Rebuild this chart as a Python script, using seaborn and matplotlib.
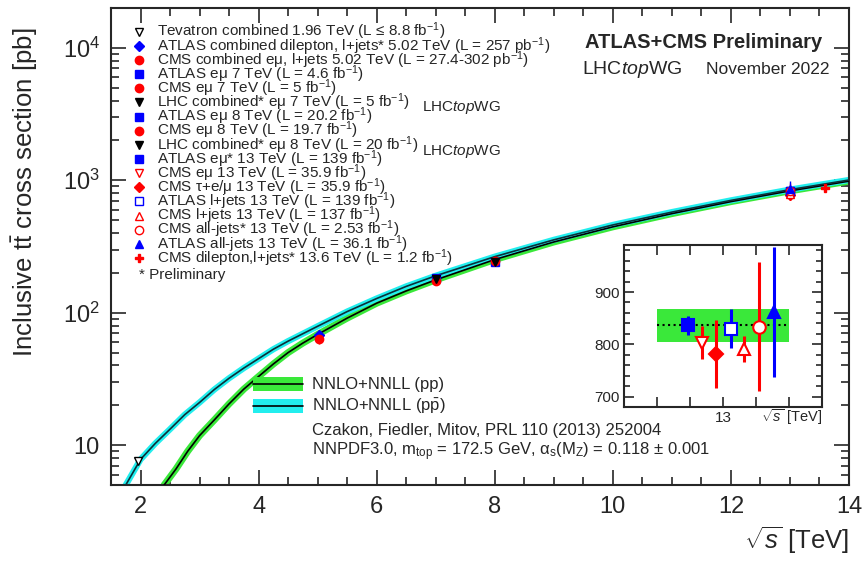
import numpy as np
import pandas as pd
import matplotlib
matplotlib.use("Agg")
import matplotlib.pyplot as plt
import seaborn as sns
from matplotlib.ticker import MultipleLocator, LogLocator, FixedLocator, FixedFormatter, NullFormatter
from matplotlib.patches import Rectangle
from matplotlib.lines import Line2D

# theory curves (NNLO+NNLL)
energy_pp = [2.4, 2.6, 2.8, 3.0, 3.25, 3.5, 3.75, 4.0, 4.25, 4.5, 4.75, 5.0, 5.5, 6.0, 6.5, 7.0,
             8.0, 9.0, 10.0, 11.0, 12.0, 13.0, 14.0]
xsec_pp = [5.0, 6.6, 9.0, 11.8, 15.5, 20.5, 26.5, 33, 41, 50, 59, 68.5, 91, 118, 146, 177,
           252, 342, 445, 560, 690, 832, 985]
energy_ppbar = [1.75, 2.0, 2.25, 2.5, 2.75, 3.0, 3.25, 3.5, 3.75, 4.0, 4.25, 4.5, 5.0, 5.5, 6.0, 6.5,
                7.0, 8.0, 9.0, 10.0, 11.0, 12.0, 13.0, 14.0]
xsec_ppbar = [5.0, 7.8, 10.3, 13.2, 17, 21, 26.3, 32, 38.2, 45, 53, 61, 79, 102, 128, 158,
              190, 265, 355, 460, 575, 705, 850, 1005]

# measurements
labels = [
    r"Tevatron combined 1.96 TeV (L ≤ 8.8 fb$^{-1}$)",
    r"ATLAS combined dilepton, l+jets* 5.02 TeV (L = 257 pb$^{-1}$)",
    r"CMS combined eμ, l+jets 5.02 TeV (L = 27.4-302 pb$^{-1}$)",
    r"ATLAS eμ 7 TeV (L = 4.6 fb$^{-1}$)",
    r"CMS eμ 7 TeV (L = 5 fb$^{-1}$)",
    r"LHC combined* eμ 7 TeV (L = 5 fb$^{-1}$)",
    r"ATLAS eμ 8 TeV (L = 20.2 fb$^{-1}$)",
    r"CMS eμ 8 TeV (L = 19.7 fb$^{-1}$)",
    r"LHC combined* eμ 8 TeV (L = 20 fb$^{-1}$)",
    r"ATLAS eμ* 13 TeV (L = 139 fb$^{-1}$)",
    r"CMS eμ 13 TeV (L = 35.9 fb$^{-1}$)",
    r"CMS τ+e/μ 13 TeV (L = 35.9 fb$^{-1}$)",
    r"ATLAS l+jets 13 TeV (L = 139 fb$^{-1}$)",
    r"CMS l+jets 13 TeV (L = 137 fb$^{-1}$)",
    r"CMS all-jets* 13 TeV (L = 2.53 fb$^{-1}$)",
    r"ATLAS all-jets 13 TeV (L = 36.1 fb$^{-1}$)",
    r"CMS dilepton,l+jets* 13.6 TeV (L = 1.2 fb$^{-1}$)",
]
meas_energy = [1.96, 5.02, 5.02, 7, 7, 7, 8, 8, 8, 13, 13, 13, 13, 13, 13, 13, 13.6]
meas_xsec = [7.60, 67.5, 63.0, 182.9, 173.6, 178.5, 242.9, 244.9, 243.3,
             836, 803, 781, 830, 791, 834, 862, 881]
meas_err = [0.20, 2.7, 5.1, 7.1, 6.7, 6.0, 8.4, 9.3, 8.7,
            19, 32, 65, 38, 25, 124, 125, 23]

# 13 TeV zoom: horizontal positions of the points in the inset
inset_idx = [9, 10, 11, 12, 13, 14, 15]
inset_x = [12.79, 12.87, 12.96, 13.05, 13.13, 13.22, 13.31]
theory13 = 836
theory13_lo = 805
theory13_hi = 868

# styles
BLUE, RED, BLACK = "#0000ff", "#ff0000", "#000000"
GREEN, CYAN = "#3ae83a", "#22eeee"
markers = ["v", "D", "o", "s", "o", "v", "s", "o", "v", "s", "v", "D", "s", "^", "o", "^", "P"]
colors = [BLACK, BLUE, RED, BLUE, RED, BLACK, BLUE, RED, BLACK, BLUE, RED, RED, BLUE, RED, RED, BLUE, RED]
filled = [False, True, True, True, True, True, True, True, True, True, False, True, False, False, False, True, True]
msize = {"D": 0.8}

sns.set_style("ticks")
plt.rcParams["font.family"] = ["Liberation Sans", "DejaVu Sans"]
plt.rcParams["mathtext.fontset"] = "custom"
plt.rcParams["mathtext.rm"] = "Liberation Sans"
plt.rcParams["mathtext.it"] = "Liberation Sans:italic"
plt.rcParams["mathtext.bf"] = "Liberation Sans:bold"

fig = plt.figure(figsize=(8.64, 5.61), dpi=100)
ax = fig.add_axes([111 / 864, 76 / 561, 738 / 864, 477 / 561])

pp = pd.DataFrame({"energy": energy_pp, "xsec": xsec_pp})
ppbar = pd.DataFrame({"energy": energy_ppbar, "xsec": xsec_ppbar})

# bands drawn as thick lines under the central values
sns.lineplot(data=pp, x="energy", y="xsec", ax=ax, color=GREEN, lw=5, zorder=2)
sns.lineplot(data=ppbar, x="energy", y="xsec", ax=ax, color=CYAN, lw=4.5, zorder=2)
sns.lineplot(data=pp, x="energy", y="xsec", ax=ax, color=BLACK, lw=1.2, zorder=3)
sns.lineplot(data=ppbar, x="energy", y="xsec", ax=ax, color="#0c3038", lw=1.2, zorder=3)

for i in range(len(meas_energy)):
    ax.errorbar([meas_energy[i]], [meas_xsec[i]], yerr=[meas_err[i]], fmt=markers[i],
                color=colors[i], mec=colors[i], mfc=colors[i] if filled[i] else "white",
                ms=6 * msize.get(markers[i], 1), mew=1.0, elinewidth=1.0, capsize=0, zorder=5)

ax.set_yscale("log")
ax.set_xlim(1.5, 14)
ax.set_ylim(5, 2e4)

ax.xaxis.set_major_locator(MultipleLocator(2))
ax.xaxis.set_minor_locator(MultipleLocator(0.5))
ax.yaxis.set_major_locator(FixedLocator([10, 100, 1000, 10000]))
ax.yaxis.set_major_formatter(FixedFormatter(["10", "$10^{2}$", "$10^{3}$", "$10^{4}$"]))
ax.yaxis.set_minor_locator(LogLocator(base=10, subs=np.arange(2, 10)))
ax.yaxis.set_minor_formatter(NullFormatter())
ax.tick_params(which="both", direction="in", top=True, right=True, width=1.2)
ax.tick_params(which="major", length=11, labelsize=17, pad=8)
ax.tick_params(which="minor", length=6)
for s in ax.spines.values():
    s.set_linewidth(1.5)


def fx(px):
    return (px - 111) / 738


def fy(py):
    return 1 - (py - 8) / 477


ax.set_ylabel(r"Inclusive $\mathrm{t\bar{t}}$ cross section [pb]", fontsize=18.5, loc="top")
ax.yaxis.set_label_coords(fx(25), fy(28))
ax.yaxis.label.set_va("center")
ax.set_xlabel(r"$\sqrt{s}$ [TeV]", fontsize=18.5, loc="right")
ax.xaxis.set_label_coords(1.0, fy(540))
ax.xaxis.label.set_va("center")

# measurement legend
for i, lab in enumerate(labels):
    yy = fy(31.7 + 14.14 * i)
    ax.plot([fx(139)], [yy], marker=markers[i], color=colors[i], mec=colors[i],
            mfc=colors[i] if filled[i] else "white", ms=6 * msize.get(markers[i], 1), mew=1.0,
            transform=ax.transAxes, clip_on=False, zorder=6)
    ax.text(fx(157), yy, lab, fontsize=11, va="center", ha="left", transform=ax.transAxes)
ax.text(fx(139), fy(275), "* Preliminary", fontsize=11, va="center", ha="left", transform=ax.transAxes)
ax.text(fx(422), fy(107), r"LHC$\mathit{top}$WG", fontsize=11, va="center", transform=ax.transAxes)
ax.text(fx(422), fy(152), r"LHC$\mathit{top}$WG", fontsize=11, va="center", transform=ax.transAxes)

ax.text(fx(822), fy(43), "ATLAS+CMS Preliminary", fontsize=14.5, fontweight="bold",
        ha="right", va="center", transform=ax.transAxes)
ax.text(fx(582), fy(69), r"LHC$\mathit{top}$WG", fontsize=14, ha="left", va="center", transform=ax.transAxes)
ax.text(fx(830), fy(69), "November 2022", fontsize=12.5, ha="right", va="center", transform=ax.transAxes)

# theory legend
for yc, col, lab in [(384, GREEN, "NNLO+NNLL (pp)"), (406, CYAN, r"NNLO+NNLL (p$\mathrm{\bar{p}}$)")]:
    ax.add_patch(Rectangle((fx(253), fy(yc + 7)), fx(303) - fx(253), fy(yc - 7) - fy(yc + 7),
                           transform=ax.transAxes, fc=col, ec="none", zorder=6))
    ax.add_line(Line2D([fx(253), fx(303)], [fy(yc), fy(yc)], color=BLACK, lw=1.2,
                       transform=ax.transAxes, zorder=7))
    ax.text(fx(312), fy(yc), lab, fontsize=12, va="center", transform=ax.transAxes)
ax.text(fx(312), fy(430), "Czakon, Fiedler, Mitov, PRL 110 (2013) 252004", fontsize=12,
        va="center", transform=ax.transAxes)
ax.text(fx(312), fy(452), r"NNPDF3.0, m$_\mathrm{top}$ = 172.5 GeV, α$_\mathrm{s}$(M$_\mathrm{Z}$) = 0.118 ± 0.001",
        fontsize=12, va="center", transform=ax.transAxes)

# inset with the 13 TeV measurements
axi = fig.add_axes([624 / 864, (561 - 407) / 561, 198 / 864, 162 / 561])
axi.fill_between([12.6, 13.4], [theory13_lo] * 2, [theory13_hi] * 2, color=GREEN, lw=0, zorder=1)
axi.plot([12.6, 13.4], [theory13] * 2, color=BLACK, ls=":", lw=1.5, zorder=2)
for k, i in enumerate(inset_idx):
    axi.errorbar([inset_x[k]], [meas_xsec[i]], yerr=[meas_err[i]], fmt=markers[i],
                 color=colors[i], mec=colors[i], mfc=colors[i] if filled[i] else "white",
                 ms=9 * msize.get(markers[i], 1), mew=1.5, elinewidth=2.2, capsize=0, zorder=5)
axi.set_xlim(12.4, 13.6)
axi.set_ylim(680, 990)
axi.xaxis.set_major_locator(FixedLocator([12.6, 12.8, 13.0, 13.2, 13.4]))
axi.xaxis.set_major_formatter(FixedFormatter(["", "", "13", "", ""]))
axi.yaxis.set_major_locator(MultipleLocator(100))
axi.yaxis.set_minor_locator(MultipleLocator(20))
axi.tick_params(which="both", direction="in", top=True, right=True, width=1.2, labelsize=11, pad=3)
axi.tick_params(which="major", length=7)
axi.tick_params(which="minor", length=4)
for s in axi.spines.values():
    s.set_linewidth(1.5)
axi.set_xlabel(r"$\sqrt{s}$ [TeV]", fontsize=10.5, loc="right", labelpad=0)
axi.xaxis.set_label_coords(1.0, -0.06)
axi.xaxis.label.set_va("center")

fig.savefig("out.png", dpi=100)
